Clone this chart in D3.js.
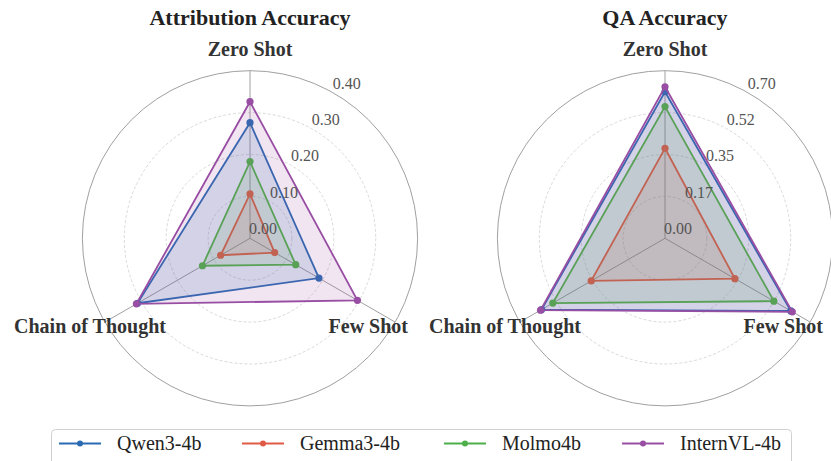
<!DOCTYPE html>
<html>
<head>
<meta charset="utf-8">
<script src="https://cdn.jsdelivr.net/npm/d3@7"></script>
<style>
  body { margin: 0; background: #fff; }
  svg { font-family: "Liberation Serif", "Times New Roman", serif; }
</style>
</head>
<body>
<svg id="chart" width="831" height="461"></svg>
<script>
// axes in clockwise order starting from the top
const categories = ["Zero Shot", "Few Shot", "Chain of Thought"];
const models = ["Qwen3-4b", "Gemma3-4b", "Molmo4b", "InternVL-4b"];
const colors = ["#2a6ab3", "#e05a45", "#4daf4a", "#984ea3"];

const attrQwen = [0.276, 0.190, 0.310];
const attrGemma = [0.106, 0.068, 0.081];
const attrMolmo = [0.183, 0.126, 0.131];
const attrIntern = [0.326, 0.296, 0.313];
const attrTicks = [0, 0.1, 0.2, 0.3, 0.4];
const attrTickLabels = ["0.00", "0.10", "0.20", "0.30", "0.40"];

const qaQwen = [0.612, 0.607, 0.595];
const qaGemma = [0.376, 0.337, 0.356];
const qaMolmo = [0.550, 0.525, 0.541];
const qaIntern = [0.633, 0.614, 0.600];
const qaTicks = [0, 0.175, 0.35, 0.525, 0.70];
const qaTickLabels = ["0.00", "0.17", "0.35", "0.52", "0.70"];

const svg = d3.select("#chart");
const R = 167.6;

function radar(cx, cy, title, series, ticks, tickLabels) {
    const g = svg.append("g").attr("transform", `translate(${cx}, ${cy})`);
    const r = d3.scaleLinear().domain([0, ticks[ticks.length - 1]]).range([0, R]);
    const angle = i => i * 2 * Math.PI / categories.length;

    // rings (the last one is the outer frame)
    ticks.slice(1).forEach((t, i) => {
        const outer = i === ticks.length - 2;
        g.append("circle")
            .attr("r", r(t))
            .attr("fill", "none")
            .attr("stroke", outer ? "#a0a0a0" : "#cfcfcf")
            .attr("stroke-width", outer ? 1 : 0.8)
            .attr("stroke-dasharray", outer ? null : "3,2");
    });

    // spokes
    categories.forEach((c, i) => {
        g.append("line")
            .attr("x1", 0).attr("y1", 0)
            .attr("x2", R * Math.sin(angle(i)))
            .attr("y2", -R * Math.cos(angle(i)))
            .attr("stroke", "#a0a0a0")
            .attr("stroke-width", 1);
    });

    const line = d3.lineRadial()
        .angle((d, i) => angle(i))
        .radius(d => r(d))
        .curve(d3.curveLinearClosed);

    series.forEach((vals, k) => {
        g.append("path")
            .attr("d", line(vals))
            .attr("fill", colors[k])
            .attr("fill-opacity", 0.15)
            .attr("stroke", colors[k])
            .attr("stroke-width", 1.8);
        g.selectAll(null).data(vals).enter().append("circle")
            .attr("cx", (d, i) => r(d) * Math.sin(angle(i)))
            .attr("cy", (d, i) => -r(d) * Math.cos(angle(i)))
            .attr("r", 3.6)
            .attr("fill", colors[k]);
    });

    // radial tick labels along 30 degrees
    const la = Math.PI / 6;
    ticks.forEach((t, i) => {
        g.append("text")
            .attr("x", r(t) * Math.sin(la) + 13)
            .attr("y", -r(t) * Math.cos(la) - 10)
            .attr("text-anchor", "middle")
            .attr("dominant-baseline", "central")
            .style("font-size", "16px")
            .style("fill", "#555")
            .text(tickLabels[i]);
    });

    // category labels
    const labelPos = [
        { x: 0, y: -182, anchor: "middle" },
        { x: 158, y: 95, anchor: "end" },
        { x: -160, y: 95, anchor: "middle" }
    ];
    categories.forEach((c, i) => {
        g.append("text")
            .attr("x", labelPos[i].x)
            .attr("y", labelPos[i].y)
            .attr("text-anchor", labelPos[i].anchor)
            .style("font-size", "20px")
            .style("font-weight", "bold")
            .style("fill", "#333")
            .text(c);
    });

    svg.append("text")
        .attr("x", cx)
        .attr("y", 25)
        .attr("text-anchor", "middle")
        .style("font-size", "22px")
        .style("font-weight", "bold")
        .style("fill", "#222")
        .text(title);
}

radar(250, 238.3, "Attribution Accuracy", [attrQwen, attrGemma, attrMolmo, attrIntern], attrTicks, attrTickLabels);
radar(665, 238.3, "QA Accuracy", [qaQwen, qaGemma, qaMolmo, qaIntern], qaTicks, qaTickLabels);

// legend
const legend = svg.append("g");
legend.append("rect")
    .attr("x", 51.5).attr("y", 429.5)
    .attr("width", 740).attr("height", 44)
    .attr("rx", 4)
    .attr("fill", "#fff")
    .attr("stroke", "#d0d0d0");
const legendX = [59, 242, 444, 622];
models.forEach((m, k) => {
    const item = legend.append("g").attr("transform", `translate(${legendX[k]}, 443.5)`);
    item.append("line")
        .attr("x1", 0).attr("x2", 42)
        .attr("stroke", colors[k])
        .attr("stroke-width", 2);
    item.append("circle").attr("cx", 21).attr("r", 3).attr("fill", colors[k]);
    item.append("text")
        .attr("x", 58)
        .attr("dy", "0.33em")
        .style("font-size", "20px")
        .style("fill", "#222")
        .text(m);
});
</script>
</body>
</html>
